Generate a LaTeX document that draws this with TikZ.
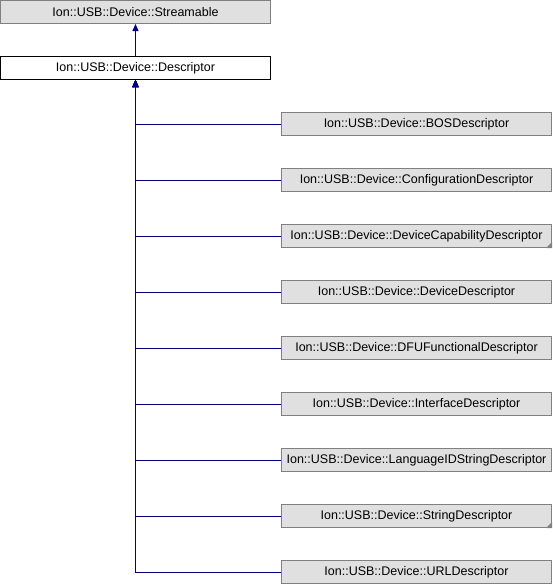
\documentclass[tikz,border=0pt]{standalone}
\usepackage{fontspec}
\setmainfont{Liberation Sans}
\usetikzlibrary{arrows.meta, positioning}

\definecolor{boxgray}{HTML}{E0E0E0}
\definecolor{edgegray}{HTML}{808080}
\definecolor{linknavy}{HTML}{000080}

\tikzset{
    cls/.style = {draw = edgegray, fill = boxgray, line width = 1pt, minimum width = 270pt,
                  minimum height = 23pt, inner sep = 0pt, font = \fontsize{12.5}{14}\selectfont},
    current/.style = {cls, draw = black, fill = white},
    inherit/.style = {draw = linknavy, line width = 1pt, -{Triangle[length = 7pt, width = 6pt]}},
}

\begin{document}
\begin{tikzpicture}[x = 1pt, y = -1pt]
                \useasboundingbox (0, 0) rectangle (552, 584);

                \node [cls] (S) at (135.5, 12) { Ion::USB::Device::Streamable };
                \node [current] (D) at (135.5, 68) { Ion::USB::Device::Descriptor };

                \node [cls] (C1) at (416.5, 124) { Ion::USB::Device::BOSDescriptor };
                \node [cls] (C2) at (416.5, 180) { Ion::USB::Device::ConfigurationDescriptor };
                \node [cls] (C3) at (416.5, 236) { Ion::USB::Device::DeviceCapabilityDescriptor };
                \node [cls] (C4) at (416.5, 292) { Ion::USB::Device::DeviceDescriptor };
                \node [cls] (C5) at (416.5, 348) { Ion::USB::Device::DFUFunctionalDescriptor };
                \node [cls] (C6) at (416.5, 404) { Ion::USB::Device::InterfaceDescriptor };
                \node [cls] (C7) at (416.5, 460) { Ion::USB::Device::LanguageIDStringDescriptor };
                \node [cls] (C8) at (416.5, 516) { Ion::USB::Device::StringDescriptor };
                \node [cls] (C9) at (416.5, 572) { Ion::USB::Device::URLDescriptor };

                % classes with further subclasses
                \fill [edgegray] (C3.south east) -- ++(-6, 0) -- ++(6, -6) -- cycle;
                \fill [edgegray] (C8.south east) -- ++(-6, 0) -- ++(6, -6) -- cycle;

                \draw [inherit] (D) to (S);
                \draw [inherit] (C9.west) -| (D.south);
                \draw [inherit] (C8.west) -| (D.south);
                \draw [inherit] (C7.west) -| (D.south);
                \draw [inherit] (C6.west) -| (D.south);
                \draw [inherit] (C5.west) -| (D.south);
                \draw [inherit] (C4.west) -| (D.south);
                \draw [inherit] (C3.west) -| (D.south);
                \draw [inherit] (C2.west) -| (D.south);
                \draw [inherit] (C1.west) -| (D.south);
            \end{tikzpicture}
\end{document}
